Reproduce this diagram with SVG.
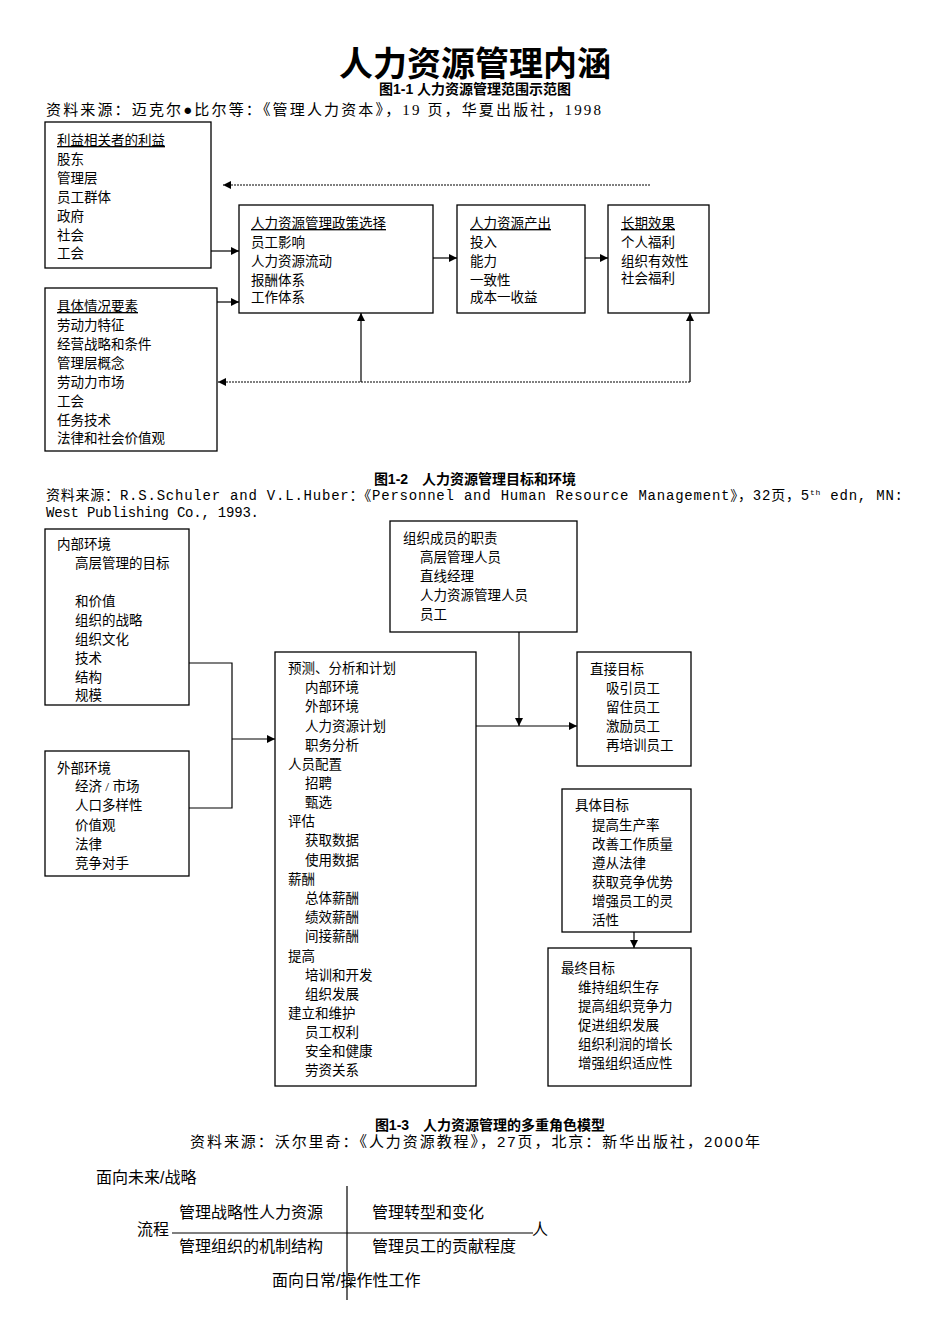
<svg xmlns="http://www.w3.org/2000/svg" width="950" height="1344" viewBox="0 0 950 1344">
<defs>
<marker id="ah" viewBox="0 0 10 10" refX="10" refY="5" markerWidth="8" markerHeight="8" orient="auto" markerUnits="userSpaceOnUse"><path d="M0,0 L10,5 L0,10 z" fill="#000"/></marker>
<style>
text{font-family:"Liberation Serif","Noto Sans CJK SC",serif;font-size:13.5px;fill:#000}
.s{font-family:"Liberation Sans","Noto Sans CJK SC",sans-serif}
.m{font-family:"Liberation Mono","Noto Sans CJK SC",monospace}
.b{font-weight:bold}
.u{text-decoration:underline}
rect{fill:#fff;stroke:#000;stroke-width:1.3}
.c line,.c polyline{stroke:#000;stroke-width:1.2;fill:none}
.d{stroke-dasharray:2 1}
</style>
</defs>
<rect x="0" y="0" width="950" height="1344" style="stroke:none"/>
<text class="s b" x="475" y="76" text-anchor="middle" style="font-size:34px">人力资源管理内涵</text>
<text class="s b" x="475" y="94" text-anchor="middle" style="font-size:14px">图1-1 人力资源管理范围示范图</text>
<text x="46" y="115" textLength="555" lengthAdjust="spacing" style="font-size:15px">资料来源：迈克尔●比尔等：《管理人力资本》，19 页，华夏出版社，1998</text>

<g id="n1"><rect x="45" y="122" width="166" height="146"/>
<text x="57" y="145" class="u">利益相关者的利益</text><text x="57" y="164">股东</text><text x="57" y="183">管理层</text><text x="57" y="202">员工群体</text><text x="57" y="221">政府</text><text x="57" y="240">社会</text><text x="57" y="258">工会</text></g>
<g id="n2"><rect x="45" y="288" width="172" height="163"/>
<text x="57" y="311" class="u">具体情况要素</text><text x="57" y="330">劳动力特征</text><text x="57" y="349">经营战略和条件</text><text x="57" y="368">管理层概念</text><text x="57" y="387">劳动力市场</text><text x="57" y="406">工会</text><text x="57" y="425">任务技术</text><text x="57" y="443">法律和社会价值观</text></g>
<g id="n3"><rect x="239" y="205" width="194" height="108"/>
<text x="251" y="228" class="u">人力资源管理政策选择</text><text x="251" y="247">员工影响</text><text x="251" y="266">人力资源流动</text><text x="251" y="285">报酬体系</text><text x="251" y="302">工作体系</text></g>
<g id="n4"><rect x="457" y="205" width="128" height="108"/>
<text x="470" y="228" class="u">人力资源产出</text><text x="470" y="247">投入</text><text x="470" y="266">能力</text><text x="470" y="285">一致性</text><text x="470" y="302">成本一收益</text></g>
<g id="n5"><rect x="608" y="205" width="101" height="108"/>
<text x="621" y="228" class="u">长期效果</text><text x="621" y="247">个人福利</text><text x="621" y="266">组织有效性</text><text x="621" y="283">社会福利</text></g>
<g class="c" id="c1">
<line class="d" x1="650" y1="185" x2="223" y2="185" marker-end="url(#ah)"/>
<line x1="211" y1="251" x2="239" y2="251" marker-end="url(#ah)"/>
<line x1="217" y1="302" x2="239" y2="302" marker-end="url(#ah)"/>
<line x1="433" y1="258" x2="457" y2="258" marker-end="url(#ah)"/>
<line x1="585" y1="258" x2="608" y2="258" marker-end="url(#ah)"/>
<line class="d" x1="690" y1="382" x2="218" y2="382" marker-end="url(#ah)"/>
<line x1="361" y1="382" x2="361" y2="313" marker-end="url(#ah)"/>
<line x1="690" y1="382" x2="690" y2="313" marker-end="url(#ah)"/>
</g>

<text class="s b" x="475" y="484" text-anchor="middle" style="font-size:14px">图1-2　人力资源管理目标和环境</text>
<text class="m" x="46" y="500" textLength="857" lengthAdjust="spacing" style="font-size:14px">资料来源：R.S.Schuler and V.L.Huber：《Personnel and Human Resource Management》，32页，5<tspan style="font-size:8px" dy="-5">th</tspan><tspan dy="5"> edn, MN:</tspan></text>
<text class="m" x="46" y="517" textLength="213" lengthAdjust="spacing" style="font-size:14px">West Publishing Co., 1993.</text>

<g id="m1"><rect x="45" y="529" width="144" height="176"/>
<text x="57" y="549">内部环境</text><text x="75" y="568">高层管理的目标</text><text x="75" y="606">和价值</text><text x="75" y="625">组织的战略</text><text x="75" y="644">组织文化</text><text x="75" y="663">技术</text><text x="75" y="682">结构</text><text x="75" y="700">规模</text></g>
<g id="m2"><rect x="45" y="751" width="144" height="125"/>
<text x="57" y="773">外部环境</text><text x="75" y="791">经济 / 市场</text><text x="75" y="810">人口多样性</text><text x="75" y="830">价值观</text><text x="75" y="849">法律</text><text x="75" y="868">竞争对手</text></g>
<g id="m3"><rect x="275" y="652" width="201" height="434"/>
<text x="288" y="673">预测、分析和计划</text><text x="305" y="692">内部环境</text><text x="305" y="711">外部环境</text><text x="305" y="731">人力资源计划</text><text x="305" y="750">职务分析</text><text x="288" y="769">人员配置</text><text x="305" y="788">招聘</text><text x="305" y="807">甄选</text><text x="288" y="826">评估</text><text x="305" y="845">获取数据</text><text x="305" y="865">使用数据</text><text x="288" y="884">薪酬</text><text x="305" y="903">总体薪酬</text><text x="305" y="922">绩效薪酬</text><text x="305" y="941">间接薪酬</text><text x="288" y="961">提高</text><text x="305" y="980">培训和开发</text><text x="305" y="999">组织发展</text><text x="288" y="1018">建立和维护</text><text x="305" y="1037">员工权利</text><text x="305" y="1056">安全和健康</text><text x="305" y="1075">劳资关系</text></g>
<g id="m4"><rect x="390" y="521" width="187" height="111"/>
<text x="403" y="543">组织成员的职责</text><text x="420" y="562">高层管理人员</text><text x="420" y="581">直线经理</text><text x="420" y="600">人力资源管理人员</text><text x="420" y="619">员工</text></g>
<g id="m5"><rect x="577" y="652" width="114" height="114"/>
<text x="590" y="674">直接目标</text><text x="606" y="693">吸引员工</text><text x="606" y="712">留住员工</text><text x="606" y="731">激励员工</text><text x="606" y="750">再培训员工</text></g>
<g id="m6"><rect x="562" y="789" width="129" height="143"/>
<text x="575" y="810">具体目标</text><text x="592" y="830">提高生产率</text><text x="592" y="849">改善工作质量</text><text x="592" y="868">遵从法律</text><text x="592" y="887">获取竞争优势</text><text x="592" y="906">增强员工的灵</text><text x="592" y="925">活性</text></g>
<g id="m7"><rect x="548" y="948" width="143" height="138"/>
<text x="561" y="973">最终目标</text><text x="578" y="992">维持组织生存</text><text x="578" y="1011">提高组织竞争力</text><text x="578" y="1030">促进组织发展</text><text x="578" y="1049">组织利润的增长</text><text x="578" y="1068">增强组织适应性</text></g>
<g class="c" id="c2">
<polyline points="189,663 232,663 232,808 189,808"/>
<line x1="232" y1="739" x2="275" y2="739" marker-end="url(#ah)"/>
<line x1="476" y1="726" x2="577" y2="726" marker-end="url(#ah)"/>
<line x1="519" y1="632" x2="519" y2="726" marker-end="url(#ah)"/>
<line x1="634" y1="932" x2="634" y2="948" marker-end="url(#ah)"/>
</g>

<text class="s b" x="490" y="1130" text-anchor="middle" style="font-size:14px">图1-3　人力资源管理的多重角色模型</text>
<text class="s" x="190" y="1147" textLength="570" lengthAdjust="spacing" style="font-size:15px">资料来源：沃尔里奇：《人力资源教程》，27页，北京：新华出版社，2000年</text>
<text class="s" x="96" y="1183" style="font-size:16px">面向未来/战略</text>
<text class="s" x="137" y="1235" style="font-size:16px">流程</text>
<text class="s" x="532" y="1235" style="font-size:16px">人</text>
<text class="s" x="179" y="1218" style="font-size:16px">管理战略性人力资源</text>
<text class="s" x="372" y="1218" style="font-size:16px">管理转型和变化</text>
<text class="s" x="179" y="1252" style="font-size:16px">管理组织的机制结构</text>
<text class="s" x="372" y="1252" style="font-size:16px">管理员工的贡献程度</text>
<text class="s" x="272" y="1286" style="font-size:16px">面向日常/操作性工作</text>
<g class="c" id="c3">
<line x1="347" y1="1186" x2="347" y2="1300"/>
<line x1="172" y1="1233" x2="533" y2="1233"/>
</g>
</svg>
